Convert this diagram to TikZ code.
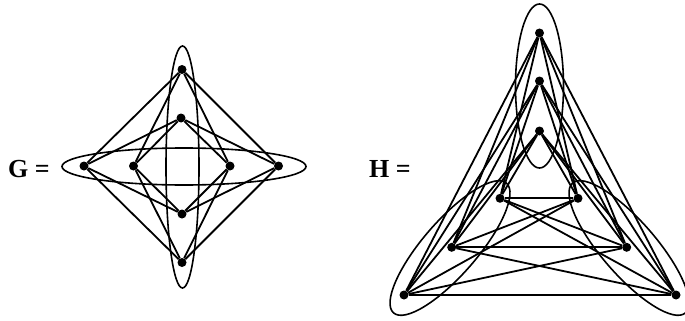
\documentclass[tikz,border=0pt]{standalone}
\usepackage{fontspec}
\setmainfont{Liberation Serif}
\begin{document}
\begin{tikzpicture}[x=1pt,y=-1pt,
  vtx/.style={circle,fill=black,inner sep=0pt,minimum size=9pt},
  edge/.style={line width=1.8pt},
  hyper/.style={line width=1.6pt},
  lbl/.style={font=\fontsize{26}{30}\selectfont\bfseries, anchor=base west, inner sep=0pt}]
\useasboundingbox (0,0) rectangle (685,321);
% ---------- G ----------
\node[lbl] (gl) at (8,177) {G =};
\node[vtx] (T) at (182,69.5) {};
\node[vtx] (t) at (181,118) {};
\node[vtx] (b) at (182,214) {};
\node[vtx] (B) at (182,262.5) {};
\node[vtx] (L) at (84,166) {};
\node[vtx] (l) at (133.5,166) {};
\node[vtx] (r) at (230,166) {};
\node[vtx] (R) at (278.5,166) {};
\foreach \p in {T,t,b,B}
  \foreach \q in {L,l,r,R}
    \draw[edge] (\p) -- (\q);
\draw[hyper] (182.5,167) ellipse [x radius=16.5, y radius=121];
\draw[hyper] (184,166.5) ellipse [x radius=122, y radius=18.5];
% ---------- H ----------
\node[lbl] (hl) at (369,177) {H =};
\node[vtx] (A1) at (539.5,33) {};
\node[vtx] (A2) at (539.5,81) {};
\node[vtx] (A3) at (539.5,131) {};
\node[vtx] (B1) at (404,295) {};
\node[vtx] (B2) at (451.7,247.3) {};
\node[vtx] (B3) at (500,198.3) {};
\node[vtx] (C1) at (676,295) {};
\node[vtx] (C2) at (626.7,247.3) {};
\node[vtx] (C3) at (578,198.3) {};
\foreach \i in {1,2,3}
  \foreach \j in {1,2,3} {
    \draw[edge] (A\i) -- (B\j);
    \draw[edge] (A\i) -- (C\j);
    \draw[edge] (B\i) -- (C\j);
  }
\draw[hyper] (539.5,86) ellipse [x radius=24, y radius=82];
\draw[hyper, rotate around={49:(450,248)}] (450,248) ellipse [x radius=86, y radius=27];
\draw[hyper, rotate around={-49:(629,248)}] (629,248) ellipse [x radius=86, y radius=27];
\end{tikzpicture}
\end{document}
